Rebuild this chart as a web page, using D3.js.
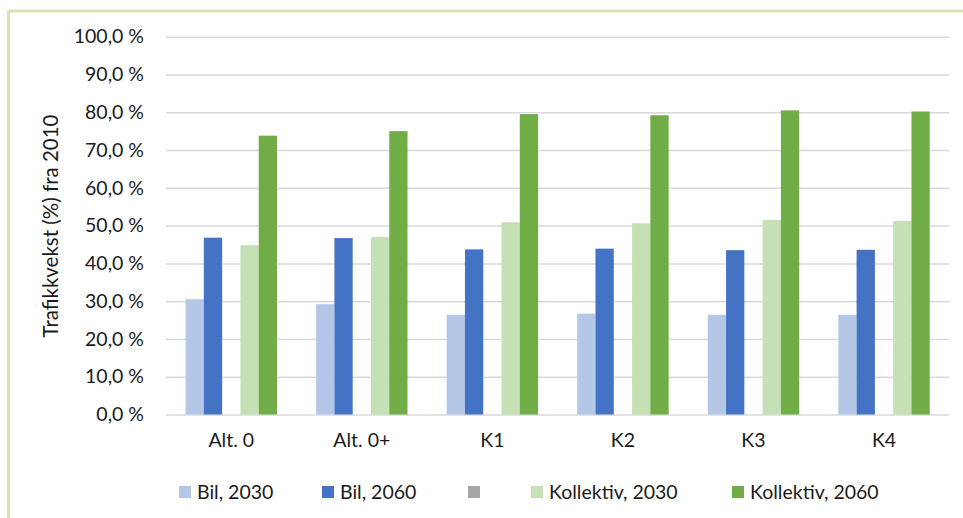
<!DOCTYPE html>
<html>
<head>
<meta charset="utf-8">
<script src="https://cdn.jsdelivr.net/npm/d3@7"></script>
<style>
  html, body { margin: 0; padding: 0; background: #fff; }
  svg { display: block; }
  text { font-family: Lato, "Open Sans", sans-serif; fill: #1a1a1a; }
</style>
</head>
<body>
<svg id="chart" width="963" height="518"></svg>
<script>
// Scenarios on the x axis
const categories = ["Alt. 0", "Alt. 0+", "K1", "K2", "K3", "K4"];

// Growth in traffic since 2010 (%)
const bil2030 = [30.5, 29.2, 26.4, 26.7, 26.4, 26.4];
const bil2060 = [46.8, 46.7, 43.7, 43.9, 43.5, 43.6];
const blank = [null, null, null, null, null, null];
const kollektiv2030 = [44.8, 47.0, 50.9, 50.6, 51.5, 51.2];
const kollektiv2060 = [73.8, 75.0, 79.5, 79.2, 80.5, 80.2];

const seriesNames = ["Bil, 2030", "Bil, 2060", "", "Kollektiv, 2030", "Kollektiv, 2060"];
const seriesColors = ["#b4c7e7", "#4472c4", "#a5a5a5", "#c5e0b4", "#70ad47"];
const seriesValues = [bil2030, bil2060, blank, kollektiv2030, kollektiv2060];

const yTicks = [0, 10, 20, 30, 40, 50, 60, 70, 80, 90, 100];

const FONT = 19.5;
const svg = d3.select("#chart");

// Frame edges along the top and left
svg.append("line").attr("x1", 8.5).attr("x2", 963).attr("y1", 11).attr("y2", 11)
  .attr("stroke", "#d7e4a9").attr("stroke-width", 3);
svg.append("line").attr("x1", 8.5).attr("x2", 8.5).attr("y1", 11).attr("y2", 518)
  .attr("stroke", "#d7e4a9").attr("stroke-width", 3);

const plot = { left: 166, right: 949.3, top: 36.7, bottom: 414.5 };

const x0 = d3.scaleBand().domain(categories).range([plot.left, plot.right]);
const x1 = d3.scaleBand().domain(d3.range(seriesNames.length))
  .range([0, x0.bandwidth()]).paddingInner(0).paddingOuter(1.07);
const y = d3.scaleLinear().domain([0, 100]).range([plot.bottom, plot.top]);

const fmt = v => d3.format(".1f")(v).replace(".", ",") + " %";

// Horizontal gridlines and y-axis labels
const yAxis = d3.axisLeft(y).tickValues(yTicks).tickFormat(fmt)
  .tickSize(-(plot.right - plot.left)).tickPadding(22);
const gy = svg.append("g").attr("transform", `translate(${plot.left},0)`).call(yAxis);
gy.select(".domain").remove();
gy.selectAll(".tick line").attr("stroke", "#d9d9d9").attr("stroke-width", 1.5);
gy.selectAll(".tick text").attr("font-size", FONT).attr("fill", "#1a1a1a")
  .attr("font-family", "Lato, sans-serif");

// Category labels
const xAxis = d3.axisBottom(x0).tickSize(0).tickPadding(19);
const gx = svg.append("g").attr("transform", `translate(0,${plot.bottom})`).call(xAxis);
gx.select(".domain").remove();
gx.selectAll(".tick text").attr("font-size", FONT).attr("fill", "#1a1a1a")
  .attr("font-family", "Lato, sans-serif");

// Bars
const groups = svg.append("g").selectAll("g")
  .data(categories).join("g")
  .attr("transform", d => `translate(${x0(d)},0)`);

groups.selectAll("rect")
  .data((c, ci) => seriesValues.map((vals, si) => ({ si, v: vals[ci] })).filter(d => d.v != null))
  .join("rect")
  .attr("x", d => x1(d.si))
  .attr("width", x1.bandwidth())
  .attr("y", d => y(d.v))
  .attr("height", d => y(0) - y(d.v))
  .attr("fill", d => seriesColors[d.si]);

// Y-axis title
svg.append("text")
  .attr("transform", `translate(58,226) rotate(-90)`)
  .attr("text-anchor", "middle")
  .attr("font-size", FONT + 1)
  .text("Trafikkvekst (%) fra 2010");

// Legend
const legendX = [179, 322, 468, 531, 732];
const legend = svg.append("g").selectAll("g")
  .data(seriesNames).join("g")
  .attr("transform", (d, i) => `translate(${legendX[i]},492)`);
legend.append("rect")
  .attr("x", 0).attr("y", -6).attr("width", 12).attr("height", 12)
  .attr("fill", (d, i) => seriesColors[i]);
legend.append("text")
  .attr("x", 18).attr("y", 0).attr("dy", "0.35em")
  .attr("font-size", FONT)
  .text(d => d);
</script>
</body>
</html>
